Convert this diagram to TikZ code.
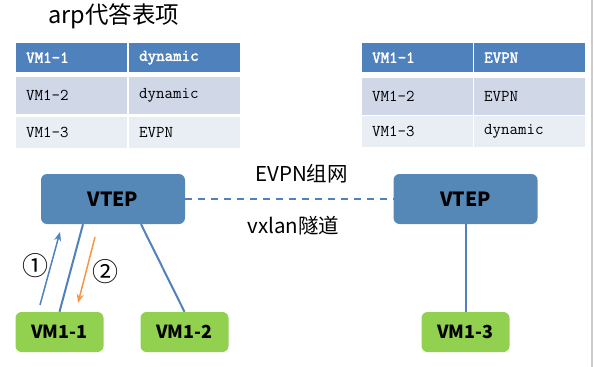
\documentclass[tikz,border=0pt]{standalone}
\usepackage{fontspec}
\newfontfamily\cjk{Noto Sans CJK SC}
\newfontfamily\cellfont[AutoFakeBold=2.5]{Latin Modern Mono}
\usetikzlibrary{arrows,arrows.meta}
\definecolor{hdrblue}{HTML}{4F81BD}
\definecolor{rowdark}{HTML}{D0D8E8}
\definecolor{rowlight}{HTML}{E9EDF4}
\definecolor{vtepblue}{HTML}{5688B7}
\definecolor{vmgreen}{HTML}{92D050}
\definecolor{arrorange}{HTML}{F79646}
\tikzset{
cell/.style={anchor=north west,inner xsep=10pt,inner ysep=0pt,text width=91pt,align=left,font=\cellfont\fontsize{16.5}{18}\selectfont},
hcell/.style={cell,fill=hdrblue,text=white,minimum height=29pt,font=\cellfont\bfseries\fontsize{16.5}{18}\selectfont},
dcell/.style={cell,fill=rowdark,minimum height=37pt},
lcell/.style={cell,fill=rowlight,minimum height=31pt},
vtep/.style={fill=vtepblue,rounded corners=6pt,minimum width=144pt,minimum height=50pt,font=\cjk\bfseries\fontsize{19.5}{22}\selectfont},
vm/.style={fill=vmgreen,rounded corners=6pt,minimum width=88pt,minimum height=40pt,font=\cjk\bfseries\fontsize{18}{20}\selectfont},
link/.style={draw=hdrblue,line width=2pt},
step arrow/.style={-{Stealth[length=9pt,width=7pt]},line width=1.5pt},
stepnum/.style={font=\cjk\fontsize{26}{28}\selectfont,inner sep=0pt}}

\begin{document}
\begin{tikzpicture}[x=1pt,y=-1pt,>=stealth]
  \useasboundingbox (0,0) rectangle (595,367);
  \draw[gray!40,line width=1.5pt] (592,0) -- (592,367);

  \node[font=\cjk\fontsize{23.5}{26}\selectfont] (title) at (114,16) {arp代答表项};

  % left table
  \node[hcell] (l11) at (16,43) {VM1-1};
  \node[hcell] (l12) at (129,43) {dynamic};
  \node[dcell] (l21) at (16,77) {VM1-2};
  \node[dcell] (l22) at (129,77) {dynamic};
  \node[lcell] (l31) at (16,117) {VM1-3};
  \node[lcell] (l32) at (129,117) {EVPN};

  % right table
  \node[hcell] (r11) at (362,43) {VM1-1};
  \node[hcell] (r12) at (474,43) {EVPN};
  \node[dcell] (r21) at (362,78) {VM1-2};
  \node[dcell] (r22) at (474,78) {EVPN};
  \node[lcell] (r31) at (362,116) {VM1-3};
  \node[lcell] (r32) at (474,116) {dynamic};

  \node[vtep] (vtepL) at (113,199) {VTEP};
  \node[vtep] (vtepR) at (465.5,199) {VTEP};
  \node[vm] (vm11) at (59.5,332) {VM1-1};
  \node[vm] (vm12) at (184.5,332) {VM1-2};
  \node[vm] (vm13) at (465.5,332) {VM1-3};

  \draw[link,dashed,dash pattern=on 7pt off 6pt] (vtepL.east) -- (vtepR.west);
  \node[font=\cjk\fontsize{20.5}{23}\selectfont] (evpn) at (301.5,174) {EVPN组网};
  \node[font=\cjk\fontsize{20.5}{23}\selectfont] (vxlan) at (293.5,226) {vxlan隧道};

  \draw[link] ([xshift=-30pt]vtepL.south) -- (vm11.north);
  \draw[link] ([xshift=28pt]vtepL.south) -- (vm12.north);
  \draw[link] (vtepR.south) -- (vm13.north);

  \coordinate (up0) at (40,305);
  \coordinate (up1) at (60,232);
  \coordinate (dn0) at (95,237);
  \coordinate (dn1) at (78,303);
  \draw[step arrow,draw=hdrblue,fill=hdrblue] (up0) -- (up1);
  \draw[step arrow,draw=arrorange,fill=arrorange] (dn0) -- (dn1);
  \node[stepnum] (one) at (36,266) {①};
  \node[stepnum] (two) at (105.5,272) {②};
\end{tikzpicture}
\end{document}
